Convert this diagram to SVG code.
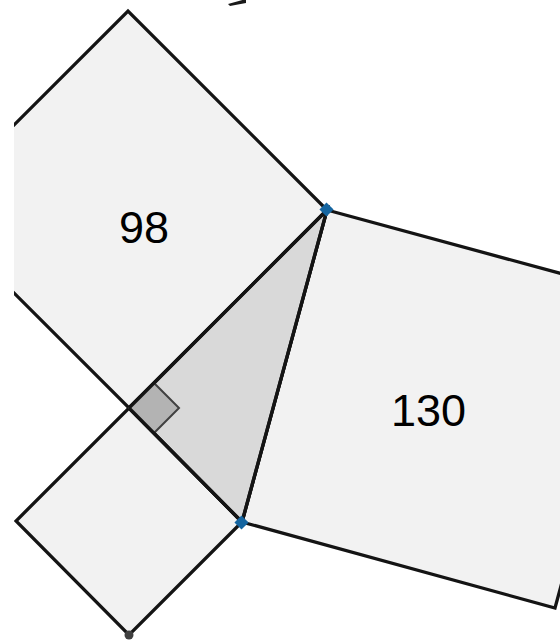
<svg xmlns="http://www.w3.org/2000/svg" width="560" height="642" viewBox="0 0 560 642">
<style>
.sq{fill:#f2f2f2;stroke:#141414;stroke-width:3.3;stroke-linejoin:miter}
.tri{fill:#d9d9d9;stroke:#141414;stroke-width:3.3}
.ra{fill:#b3b3b3;stroke:#404040;stroke-width:2}
.edge{stroke:#141414;stroke-width:3.3}
.lbl{font-family:"Liberation Sans",Arial,sans-serif;font-size:45px;fill:#000;text-anchor:middle}
.pt{fill:#1565a0}
</style>
<defs>
<clipPath id="vp"><rect x="14" y="0" width="546" height="642"/></clipPath>
</defs>
<rect width="560" height="642" fill="#fff"/>
<g clip-path="url(#vp)">
<g id="square98"><polygon class="sq" points="129,408 327,210 128,11 -70,209"/></g>
<g id="square32"><polygon class="sq" points="129,408 242,522 129,635 16,521"/></g>
<g id="square130"><polygon class="sq" points="327,210 640,295 555,608 242,522"/></g>
<g id="triangle"><polygon class="tri" points="129,408 327,210 242,522"/></g>
<g id="rightangle"><polygon class="ra" points="129,408 154,383 179,408 154,433"/></g>
<g id="connectors">
<line class="edge" x1="129" y1="408" x2="327" y2="210"/>
<line class="edge" x1="129" y1="408" x2="242" y2="522"/>
<line class="edge" x1="327" y1="210" x2="242" y2="522"/>
<polygon points="228,4 246,-1 246,3 230,6" fill="#1a1a1a"/>
</g>
<g id="labels">
<text class="lbl" x="144" y="243">98</text>
<text class="lbl" x="428.5" y="425.5">130</text>
</g>
<g id="points">
<rect class="pt" x="321.5" y="204.5" width="10" height="10" transform="rotate(45 326.5 209.5)"/>
<rect class="pt" x="236.5" y="517.5" width="10" height="10" transform="rotate(45 241.5 522.5)"/>
<circle cx="129" cy="635" r="4.5" fill="#404040"/>
</g>
</g>
</svg>
